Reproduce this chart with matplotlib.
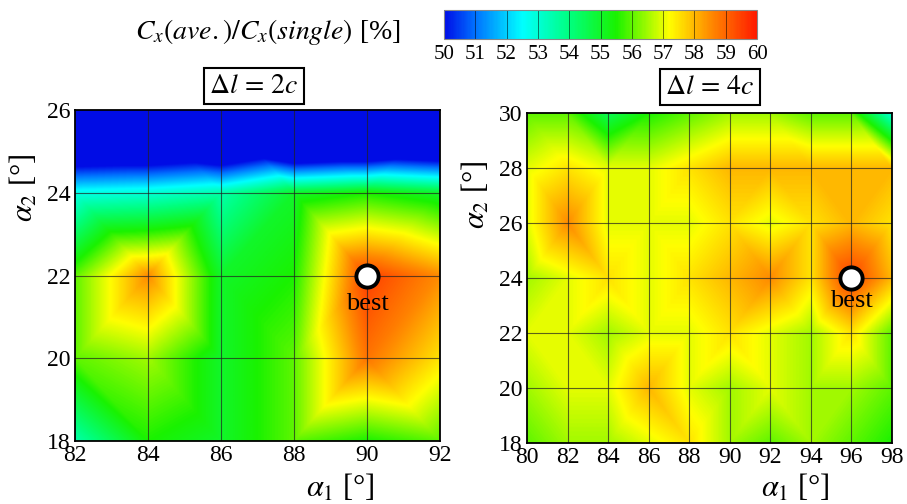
import numpy as np
import matplotlib
matplotlib.use("Agg")
import matplotlib.pyplot as plt
import matplotlib.tri as mtri
from matplotlib.colors import LinearSegmentedColormap

plt.rcParams['font.family'] = 'serif'
plt.rcParams['font.serif'] = ['Liberation Serif', 'DejaVu Serif']
plt.rcParams['mathtext.fontset'] = 'stix'

### Données : Cx(ave.)/Cx(single) en %
# dl = 2c
a1_2c = [82, 84, 86, 88, 90, 92]
a2_2c = [18, 20, 22, 24, 26]
cx_2c = [
    [53.5, 55.5, 55.0, 56.0, 55.5, 56.0],  # a2 = 18
    [56.0, 56.5, 55.0, 56.0, 58.8, 57.5],  # a2 = 20
    [56.0, 58.5, 55.0, 55.5, 59.5, 58.5],  # a2 = 22
    [52.8, 53.0, 53.5, 55.0, 55.5, 55.0],  # a2 = 24
    [44.0, 44.0, 43.0, 41.0, 41.0, 42.0],  # a2 = 26
]
best_2c = (90, 22)

# dl = 4c
a1_4c = [80, 82, 84, 86, 88, 90, 92, 94, 96, 98]
a2_4c = [18, 20, 22, 24, 26, 28, 30]
cx_4c = [
    [56.0, 56.5, 56.5, 57.0, 57.5, 56.5, 56.0, 56.5, 56.0, 55.5],  # 18
    [56.5, 57.0, 57.0, 58.0, 57.0, 56.5, 57.0, 56.5, 56.5, 56.0],  # 20
    [57.0, 57.0, 56.5, 57.0, 57.0, 57.5, 57.0, 56.5, 57.5, 56.0],  # 22
    [56.5, 57.0, 57.5, 57.0, 57.5, 58.0, 58.5, 57.5, 59.5, 58.0],  # 24
    [57.0, 58.5, 57.0, 57.0, 57.0, 57.5, 57.0, 57.5, 58.0, 57.5],  # 26
    [57.0, 57.5, 57.0, 57.0, 57.5, 58.0, 58.0, 58.0, 58.0, 58.0],  # 28
    [56.0, 56.0, 54.5, 55.5, 56.0, 56.5, 56.5, 56.0, 56.0, 53.0],  # 30
]
best_4c = (96, 24)

cb_ticks = list(range(50, 61))

### Palette (bleu -> cyan -> vert -> jaune -> rouge)
cmap = LinearSegmentedColormap.from_list("cx", [
    (0.00, (0.00, 0.05, 0.90)),
    (0.10, (0.00, 0.45, 1.00)),
    (0.25, (0.00, 1.00, 1.00)),
    (0.40, (0.00, 1.00, 0.50)),
    (0.55, (0.10, 0.95, 0.00)),
    (0.72, (1.00, 1.00, 0.00)),
    (0.85, (1.00, 0.55, 0.00)),
    (1.00, (1.00, 0.10, 0.00)),
])


def champ(ax, xs, ys, zz, best):
    xs = np.array(xs, float)
    ys = np.array(ys, float)
    zz = np.array(zz, float)
    X, Y = np.meshgrid(xs, ys)
    nx = len(xs)
    tris = []
    for j in range(len(ys) - 1):
        for i in range(nx - 1):
            p00 = j * nx + i
            p10 = p00 + 1
            p01 = p00 + nx
            p11 = p01 + 1
            # diagonale qui relie les deux coins les plus élevés
            if zz[j, i] + zz[j + 1, i + 1] >= zz[j, i + 1] + zz[j + 1, i]:
                tris += [[p00, p10, p11], [p00, p11, p01]]
            else:
                tris += [[p00, p10, p01], [p10, p11, p01]]
    tri = mtri.Triangulation(X.ravel(), Y.ravel(), np.array(tris))
    interp = mtri.LinearTriInterpolator(tri, zz.ravel())
    fx = np.linspace(xs[0], xs[-1], 600)
    fy = np.linspace(ys[0], ys[-1], 600)
    FX, FY = np.meshgrid(fx, fy)
    FZ = interp(FX, FY)
    ax.imshow(FZ, origin='lower', extent=(xs[0], xs[-1], ys[0], ys[-1]),
              cmap=cmap, vmin=50, vmax=60, aspect='auto', interpolation='bilinear')
    for x in xs[1:-1]:
        ax.axvline(x, color='#222222', lw=0.8, alpha=0.7)
    for y in ys[1:-1]:
        ax.axhline(y, color='#222222', lw=0.8, alpha=0.7)
    ax.plot(best[0], best[1], 'o', ms=16, mfc='white', mec='black', mew=2.8)
    ax.text(best[0], best[1] - 0.42, "best", ha='center', va='top', fontsize=19)
    ax.set_xlim(xs[0], xs[-1])
    ax.set_ylim(ys[0], ys[-1])
    ax.set_xticks(xs)
    ax.set_yticks(ys)
    ax.tick_params(length=0, labelsize=17, pad=3)
    for s in ax.spines.values():
        s.set_linewidth(1.3)


fig = plt.figure(figsize=(9.07, 5.04), dpi=100)

ax1 = fig.add_axes([75 / 907, 1 - 441 / 504, 365 / 907, 331 / 504])
champ(ax1, a1_2c, a2_2c, cx_2c, best_2c)
ax2 = fig.add_axes([527 / 907, 1 - 443 / 504, 365 / 907, 330 / 504])
champ(ax2, a1_4c, a2_4c, cx_4c, best_4c)

fig.text(24 / 907, 1 - 188 / 504, r"$\alpha_2$ [°]", rotation=90, ha='center', va='center', fontsize=22)
fig.text(476 / 907, 1 - 195 / 504, r"$\alpha_2$ [°]", rotation=90, ha='center', va='center', fontsize=22)
fig.text(340 / 907, 1 - 488 / 504, r"$\alpha_1$ [°]", ha='center', va='center', fontsize=22)
fig.text(795 / 907, 1 - 488 / 504, r"$\alpha_1$ [°]", ha='center', va='center', fontsize=22)

boite = dict(boxstyle='square,pad=0.2', fc='white', ec='black', lw=1.5)
fig.text(254 / 907, 1 - 86 / 504, r"$\Delta l\,=\,2c$", ha='center', va='center', fontsize=20, bbox=boite)
fig.text(710 / 907, 1 - 87 / 504, r"$\Delta l\,=\,4c$", ha='center', va='center', fontsize=20, bbox=boite)

### Barre de couleur
cax = fig.add_axes([444 / 907, 1 - 39 / 504, 313 / 907, 29 / 504])
sm = plt.cm.ScalarMappable(cmap=cmap, norm=plt.Normalize(50, 60))
cb = fig.colorbar(sm, cax=cax, orientation='horizontal', ticks=cb_ticks)
cb.ax.tick_params(length=0, labelsize=15, pad=4)
cb.outline.set_edgecolor('#888888')
for t in cb_ticks[1:-1]:
    cax.axvline(t, color='black', lw=0.6, alpha=0.6)
fig.text(268 / 907, 1 - 32 / 504, r"$C_x(ave.)/C_x(single)$ [%]", ha='center', va='center', fontsize=20)

fig.savefig("out.png", dpi=100)
